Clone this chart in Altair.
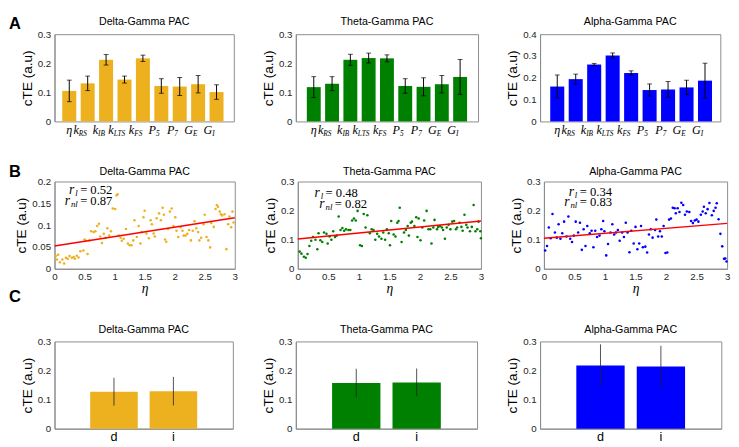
import altair as alt
import pandas as pd

# ---------------- data ----------------
cat_keys = ["eta", "kRS", "kIB", "kLTS", "kFS", "P5", "P7", "GE", "GI"]
cat_main = ["η", "k", "k", "k", "k", "P", "P", "G", "G"]
cat_sub = ["", "RS", "IB", "LTS", "FS", "5", "7", "E", "I"]

delta_a_mean = [0.105, 0.131, 0.212, 0.144, 0.217, 0.122, 0.120, 0.128, 0.101]
delta_a_err = [0.037, 0.025, 0.018, 0.012, 0.011, 0.025, 0.031, 0.030, 0.025]
theta_a_mean = [0.118, 0.130, 0.212, 0.218, 0.217, 0.122, 0.119, 0.128, 0.153]
theta_a_err = [0.036, 0.024, 0.019, 0.017, 0.012, 0.025, 0.031, 0.030, 0.060]
alpha_a_mean = [0.160, 0.194, 0.261, 0.302, 0.222, 0.144, 0.147, 0.156, 0.187]
alpha_a_err = [0.053, 0.023, 0.005, 0.012, 0.010, 0.028, 0.036, 0.033, 0.080]

delta_points = [(0.02,0.029),(0.06,0.032),(0.04,0.021),(0.09,0.015),(0.13,0.021),(0.16,0.012),(0.19,0.025),(0.22,0.023),(0.25,0.029),(0.29,0.025),(0.32,0.027),(0.34,0.023),(0.37,0.030),(0.40,0.026),(0.43,0.040),(0.48,0.042),(0.50,0.067),(0.52,0.064),(0.55,0.034),(0.58,0.065),(0.61,0.086),(0.65,0.084),(0.68,0.086),(0.71,0.098),(0.74,0.103),(0.76,0.074),(0.79,0.059),(0.82,0.080),(0.85,0.071),(0.88,0.093),(0.91,0.076),(0.94,0.086),(0.97,0.138),(1.01,0.137),(1.03,0.168),(1.05,0.171),(1.07,0.076),(1.10,0.071),(1.12,0.064),(1.15,0.069),(1.19,0.091),(1.22,0.058),(1.25,0.054),(1.28,0.054),(1.31,0.065),(1.33,0.111),(1.37,0.073),(1.40,0.098),(1.43,0.058),(1.45,0.084),(1.48,0.118),(1.50,0.133),(1.53,0.081),(1.57,0.070),(1.60,0.111),(1.62,0.102),(1.65,0.081),(1.67,0.074),(1.70,0.116),(1.74,0.127),(1.77,0.111),(1.80,0.140),(1.82,0.124),(1.84,0.067),(1.86,0.062),(1.89,0.091),(1.92,0.131),(1.95,0.138),(1.98,0.098),(2.01,0.118),(2.03,0.087),(2.06,0.073),(2.10,0.095),(2.13,0.087),(2.15,0.076),(2.18,0.076),(2.21,0.080),(2.24,0.089),(2.27,0.065),(2.30,0.087),(2.33,0.109),(2.36,0.093),(2.39,0.084),(2.41,0.065),(2.44,0.071),(2.48,0.102),(2.50,0.124),(2.53,0.073),(2.56,0.065),(2.59,0.049),(2.61,0.105),(2.65,0.096),(2.68,0.137),(2.70,0.146),(2.72,0.142),(2.75,0.131),(2.77,0.125),(2.79,0.122),(2.83,0.125),(2.86,0.045),(2.89,0.102),(2.91,0.120),(2.94,0.095),(2.96,0.131),(2.98,0.106)]

theta_points = [(0.03,0.059),(0.06,0.052),(0.10,0.041),(0.13,0.038),(0.16,0.051),(0.19,0.078),(0.22,0.096),(0.25,0.109),(0.29,0.100),(0.32,0.067),(0.34,0.122),(0.37,0.098),(0.40,0.092),(0.43,0.125),(0.47,0.120),(0.49,0.087),(0.52,0.111),(0.55,0.100),(0.58,0.129),(0.61,0.109),(0.64,0.114),(0.67,0.180),(0.70,0.133),(0.73,0.140),(0.76,0.131),(0.79,0.136),(0.83,0.133),(0.86,0.133),(0.89,0.166),(0.92,0.173),(0.95,0.166),(0.98,0.199),(1.02,0.081),(1.05,0.078),(1.08,0.188),(1.11,0.142),(1.14,0.184),(1.18,0.122),(1.21,0.136),(1.24,0.133),(1.27,0.100),(1.30,0.120),(1.33,0.111),(1.37,0.103),(1.40,0.125),(1.43,0.100),(1.46,0.136),(1.49,0.122),(1.51,0.081),(1.53,0.164),(1.57,0.118),(1.60,0.111),(1.63,0.158),(1.65,0.164),(1.67,0.210),(1.70,0.092),(1.74,0.125),(1.77,0.133),(1.80,0.147),(1.82,0.114),(1.85,0.158),(1.87,0.162),(1.91,0.147),(1.94,0.177),(1.96,0.109),(1.98,0.173),(2.01,0.098),(2.04,0.142),(2.07,0.166),(2.11,0.199),(2.14,0.136),(2.17,0.136),(2.19,0.087),(2.22,0.142),(2.24,0.168),(2.28,0.136),(2.30,0.144),(2.33,0.147),(2.36,0.142),(2.38,0.133),(2.41,0.103),(2.44,0.142),(2.47,0.151),(2.50,0.136),(2.53,0.162),(2.56,0.164),(2.59,0.136),(2.61,0.142),(2.65,0.158),(2.68,0.144),(2.70,0.131),(2.73,0.186),(2.76,0.151),(2.78,0.142),(2.82,0.129),(2.85,0.144),(2.88,0.219),(2.91,0.129),(2.94,0.136),(2.96,0.162),(2.99,0.129),(3.00,0.105)]

alpha_points = [(0.02,0.063),(0.05,0.078),(0.08,0.142),(0.11,0.105),(0.14,0.188),(0.18,0.125),(0.21,0.107),(0.24,0.153),(0.27,0.103),(0.30,0.122),(0.33,0.162),(0.37,0.111),(0.40,0.180),(0.43,0.103),(0.46,0.092),(0.49,0.114),(0.52,0.162),(0.56,0.125),(0.59,0.158),(0.62,0.065),(0.65,0.136),(0.68,0.078),(0.71,0.147),(0.75,0.122),(0.78,0.131),(0.81,0.074),(0.84,0.131),(0.87,0.109),(0.91,0.114),(0.94,0.136),(0.97,0.164),(0.99,0.129),(1.02,0.046),(1.05,0.085),(1.09,0.125),(1.12,0.153),(1.15,0.118),(1.18,0.125),(1.21,0.133),(1.24,0.096),(1.28,0.125),(1.31,0.109),(1.34,0.158),(1.37,0.125),(1.40,0.057),(1.43,0.131),(1.47,0.087),(1.50,0.144),(1.53,0.067),(1.56,0.087),(1.59,0.147),(1.62,0.074),(1.66,0.076),(1.69,0.056),(1.72,0.118),(1.75,0.136),(1.78,0.107),(1.82,0.133),(1.84,0.169),(1.87,0.111),(1.90,0.129),(1.93,0.111),(1.96,0.147),(1.99,0.054),(2.02,0.056),(2.05,0.169),(2.08,0.173),(2.11,0.210),(2.14,0.208),(2.16,0.191),(2.19,0.208),(2.22,0.195),(2.25,0.227),(2.28,0.219),(2.31,0.186),(2.34,0.197),(2.38,0.195),(2.41,0.164),(2.44,0.157),(2.47,0.166),(2.50,0.169),(2.53,0.162),(2.57,0.186),(2.60,0.197),(2.62,0.213),(2.65,0.191),(2.68,0.205),(2.71,0.226),(2.75,0.184),(2.78,0.199),(2.81,0.210),(2.83,0.225),(2.86,0.170),(2.89,0.120),(2.92,0.077),(2.95,0.034),(2.97,0.035),(2.99,0.025)]

fit_eta = [0.0, 3.0]
delta_fit = [0.052, 0.117]
theta_fit = [0.102, 0.164]
alpha_fit = [0.105, 0.156]

# annotation: (x of "=", y, subscript, value)
delta_ann = [(0.41, 0.180, "l", "0.52"), (0.41, 0.156, "nl", "0.87")]
theta_ann = [(0.44, 0.260, "l", "0.48"), (0.59, 0.221, "nl", "0.82")]
alpha_ann = [(0.57, 0.262, "l", "0.34"), (0.57, 0.230, "nl", "0.83")]

c_cats = ["d", "i"]
delta_c_mean = [0.127, 0.129]
delta_c_err = [0.048, 0.049]
theta_c_mean = [0.157, 0.159]
theta_c_err = [0.049, 0.048]
alpha_c_mean = [0.217, 0.214]
alpha_c_err = [0.073, 0.071]

titles = ["Delta-Gamma PAC", "Theta-Gamma PAC", "Alpha-Gamma PAC"]

COL_D = "#EDB120"
COL_T = "#008000"
COL_A = "#0000FF"

# ---------------- style ----------------
FONT = "Liberation Sans"
SERIF = "Liberation Serif"
H = 90
FRAME = "#8a8a8a"


def yaxis(vals):
    return alt.Axis(values=vals, format="~g", title="cTE (a.u)", titleFont=FONT,
                    titleFontSize=14, titleFontWeight="normal", titlePadding=3,
                    titleColor="black", labelFont=FONT, labelFontSize=10,
                    labelColor="#262626", labelPadding=4, ticks=False, grid=False,
                    domainColor=FRAME)


def letter(ch, dx, dy):
    return alt.Chart(pd.DataFrame({"t": [ch]})).mark_text(
        font=FONT, fontSize=17, fontWeight="bold", align="left", baseline="top",
        color="black").encode(x=alt.value(dx), y=alt.value(dy), text="t:N")


def ptitle(text, width, dy):
    return alt.Chart(pd.DataFrame({"t": [text]})).mark_text(
        font=FONT, fontSize=11, align="center", baseline="middle",
        color="black").encode(x=alt.value(width / 2.0), y=alt.value(dy), text="t:N")


def label_offsets():
    mw = {"η": 5.6, "k": 5.0, "P": 7.0, "G": 8.2}
    cw = {"R": 4.8, "S": 4.0, "I": 2.5, "B": 4.5, "L": 4.5, "T": 4.5, "F": 4.5,
          "5": 3.7, "7": 3.7, "E": 4.5}
    out = []
    for m, s in zip(cat_main, cat_sub):
        sw = sum(cw[c] for c in s)
        out.append((mw[m] - sw) / 2.0)
    return out


def panel_a(title, mean, err, color, ymax, yvals, width, pin, pout, align, extra=None):
    df = pd.DataFrame({"cat": cat_keys, "main": cat_main, "sub": cat_sub,
                       "mean": mean,
                       "lo": [m - e for m, e in zip(mean, err)],
                       "hi": [m + e for m, e in zip(mean, err)],
                       "off": label_offsets()})
    xs = alt.X("cat:N", sort=cat_keys, axis=None,
               scale=alt.Scale(paddingInner=pin, paddingOuter=pout, align=align))
    ysc = alt.Scale(domain=[0, ymax], nice=False)
    ax = yaxis(yvals)
    base = alt.Chart(df)
    bars = base.mark_bar(color=color).encode(
        x=xs, y=alt.Y("mean:Q", scale=ysc, axis=ax))
    rule = base.mark_rule(color="black", strokeWidth=1).encode(
        x=xs, y=alt.Y("lo:Q", scale=ysc, axis=ax), y2="hi:Q")
    cap_lo = base.mark_tick(color="black", size=5, thickness=1).encode(
        x=xs, y=alt.Y("lo:Q", scale=ysc, axis=ax))
    cap_hi = base.mark_tick(color="black", size=5, thickness=1).encode(
        x=xs, y=alt.Y("hi:Q", scale=ysc, axis=ax))
    lab_eta = base.transform_filter("datum.sub == ''").mark_text(
        font=SERIF, fontStyle="italic", fontSize=12.5, align="center", baseline="top",
        color="black").encode(x=xs, y=alt.value(H + 3), text="main:N")
    lab_main = base.transform_filter("datum.sub != ''").mark_text(
        font=SERIF, fontStyle="italic", fontSize=12.5, align="right", baseline="top",
        color="black").encode(x=xs, xOffset=alt.XOffset("off:Q", scale=None),
                              y=alt.value(H + 3), text="main:N")
    lab_sub = base.transform_filter("datum.sub != ''").mark_text(
        font=SERIF, fontStyle="italic", fontSize=7.5, align="left", baseline="top",
        color="black").encode(x=xs, xOffset=alt.XOffset("off:Q", scale=None),
                              y=alt.value(H + 9), text="sub:N")
    layers = [bars, rule, cap_lo, cap_hi, lab_eta, lab_main, lab_sub,
              ptitle(title, width, -13)]
    if extra is not None:
        layers += extra
    return alt.layer(*layers).properties(width=width, height=H)


def panel_b(title, points, color, ymax, yvals, fit, ann, width, extra=None):
    df = pd.DataFrame(points, columns=["eta", "cte"])
    xsc = alt.Scale(domain=[0, 3], nice=False)
    ysc = alt.Scale(domain=[0, ymax], nice=False)
    xaxis = alt.Axis(values=[0, 0.5, 1, 1.5, 2, 2.5, 3], format="~g", title="η",
                     titleFont=SERIF, titleFontStyle="italic", titleFontSize=14,
                     titleFontWeight="normal", titlePadding=1, titleColor="black",
                     labelFont=FONT, labelFontSize=10, labelColor="#262626",
                     labelPadding=3, labelFlush=False, ticks=False, grid=False,
                     domainColor=FRAME)
    yax = yaxis(yvals)
    X = lambda f: alt.X(f, scale=xsc, axis=xaxis)
    Y = lambda f: alt.Y(f, scale=ysc, axis=yax)
    pts = alt.Chart(df).mark_circle(size=7, color=color, opacity=1).encode(
        x=X("eta:Q"), y=Y("cte:Q"))
    fdf = pd.DataFrame({"x": fit_eta, "y": fit})
    line = alt.Chart(fdf).mark_line(color="#FF0000", strokeWidth=1.5).encode(
        x=X("x:Q"), y=Y("y:Q"))
    adf = pd.DataFrame(ann, columns=["x", "y", "sub", "val"])
    abase = alt.Chart(adf).transform_calculate(eq="'= ' + datum.val")
    eq = abase.mark_text(font=SERIF, fontSize=13, align="left", baseline="middle",
                         dx=1, color="black").encode(x=X("x:Q"), y=Y("y:Q"), text="eq:N")
    sub = abase.mark_text(font=SERIF, fontStyle="italic", fontSize=9, align="right",
                          baseline="middle", dx=-1.5, dy=3, color="black").encode(
        x=X("x:Q"), y=Y("y:Q"), text="sub:N")
    r1 = abase.transform_filter("datum.sub == 'l'").mark_text(
        font=SERIF, fontStyle="italic", fontSize=14, align="right", baseline="middle",
        dx=-5, color="black").encode(x=X("x:Q"), y=Y("y:Q"), text=alt.value("r"))
    r2 = abase.transform_filter("datum.sub == 'nl'").mark_text(
        font=SERIF, fontStyle="italic", fontSize=14, align="right", baseline="middle",
        dx=-9.5, color="black").encode(x=X("x:Q"), y=Y("y:Q"), text=alt.value("r"))
    layers = [pts, line, eq, sub, r1, r2, ptitle(title, width, -10)]
    if extra is not None:
        layers += extra
    return alt.layer(*layers).properties(width=width, height=H)


def panel_c(title, mean, err, color, width):
    df = pd.DataFrame({"cat": c_cats, "mean": mean,
                       "lo": [m - e for m, e in zip(mean, err)],
                       "hi": [m + e for m, e in zip(mean, err)]})
    xs = alt.X("cat:N", sort=c_cats,
               scale=alt.Scale(paddingInner=0.2, paddingOuter=0.6),
               axis=alt.Axis(title=None, labelAngle=0, labelFont=FONT, labelFontSize=13,
                             labelColor="black", labelPadding=2, ticks=False,
                             domainColor=FRAME))
    ysc = alt.Scale(domain=[0, 0.3], nice=False)
    ax = yaxis([0, 0.1, 0.2, 0.3])
    base = alt.Chart(df)
    bars = base.mark_bar(color=color).encode(
        x=xs, y=alt.Y("mean:Q", scale=ysc, axis=ax))
    rule = base.mark_rule(color="#222222", strokeWidth=1, opacity=0.8).encode(
        x=xs, y=alt.Y("lo:Q", scale=ysc, axis=ax), y2="hi:Q")
    return alt.layer(bars, rule, ptitle(title, width, -12)).properties(width=width, height=H)


row_a = alt.hconcat(
    panel_a(titles[0], delta_a_mean, delta_a_err, COL_D, 0.3,
            [0, 0.1, 0.2, 0.3], 185, 0.24, 0.49, 0.43, extra=[letter("A", -47, -18)]),
    panel_a(titles[1], theta_a_mean, theta_a_err, COL_T, 0.3,
            [0, 0.1, 0.2, 0.3], 188, 0.24, 0.6, 0.5),
    panel_a(titles[2], alpha_a_mean, alpha_a_err, COL_A, 0.4,
            [0, 0.1, 0.2, 0.3, 0.4], 186, 0.24, 0.5, 0.55),
    spacing=27)

row_b = alt.hconcat(
    panel_b(titles[0], delta_points, COL_D, 0.2,
            [0, 0.05, 0.1, 0.15, 0.2], delta_fit, delta_ann, 186,
            extra=[letter("B", -47, -18), letter("C", -47, H + 21)]),
    panel_b(titles[1], theta_points, COL_T, 0.3,
            [0, 0.1, 0.2, 0.3], theta_fit, theta_ann, 189),
    panel_b(titles[2], alpha_points, COL_A, 0.3,
            [0, 0.1, 0.2, 0.3], alpha_fit, alpha_ann, 189),
    spacing=25)

row_c = alt.hconcat(
    panel_c(titles[0], delta_c_mean, delta_c_err, COL_D, 184),
    panel_c(titles[1], theta_c_mean, theta_c_err, COL_T, 187),
    panel_c(titles[2], alpha_c_mean, alpha_c_err, COL_A, 187),
    spacing=28)

top_rows = alt.vconcat(row_a, row_b, spacing=25)

chart = alt.vconcat(top_rows, row_c, spacing=18).properties(
    padding=0, background="white"
).configure_view(stroke=FRAME, strokeWidth=1)

chart.save("out.html", embed_options={"renderer": "svg", "actions": False})
